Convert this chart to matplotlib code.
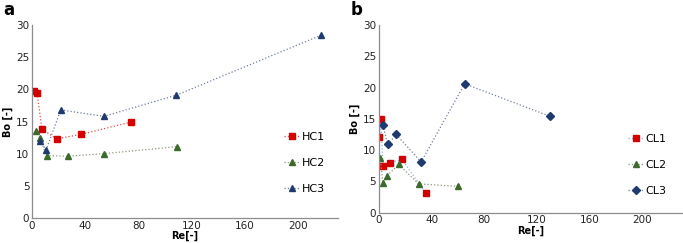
import matplotlib.pyplot as plt

# panel a
hc1_re = [1.7, 3.7, 7.4, 18.5, 36.8, 74]
hc1_bo = [19.7, 19.5, 13.8, 12.3, 13.0, 14.9]
hc2_re = [3.2, 5.7, 11, 27, 54, 109]
hc2_bo = [13.6, 12.4, 9.7, 9.6, 10.0, 11.1]
hc3_re = [5.7, 10.6, 21.5, 54, 108.5, 217]
hc3_bo = [11.9, 10.6, 16.8, 15.8, 19.1, 28.4]

# panel b
cl1_re = [0.3, 1.3, 3, 8.5, 17.5, 35.5]
cl1_bo = [12.1, 14.9, 7.5, 8.0, 8.5, 3.1]
cl2_re = [1, 2.8, 6, 15, 30, 60]
cl2_bo = [8.8, 4.8, 5.9, 7.7, 4.6, 4.2]
cl3_re = [3, 6.5, 13, 32, 65, 130]
cl3_bo = [14.0, 10.9, 12.5, 8.1, 20.6, 15.4]

xticks = [0, 40, 80, 120, 160, 200]
yticks = [0, 5, 10, 15, 20, 25, 30]

red = '#d40000'
green = '#3b6a2a'
navy = '#1f3a6e'

fig = plt.figure(figsize=(6.83, 2.43), dpi=100)
ax1 = fig.add_axes([0.047, 0.103, 0.448, 0.794])
ax2 = fig.add_axes([0.555, 0.125, 0.443, 0.772])


def style(ax, leg_x, leg_y):
    ax.set_xlim(0, 230)
    ax.set_ylim(0, 30)
    ax.set_xticks(xticks)
    ax.set_yticks(yticks)
    for s in ['top', 'right']:
        ax.spines[s].set_visible(False)
    for s in ['left', 'bottom']:
        ax.spines[s].set_color('#8c8c8c')
        ax.spines[s].set_linewidth(0.9)
    ax.tick_params(length=0, labelsize=7.5, colors='#222222', pad=2)
    ax.set_xlabel('Re[-]', fontsize=7, fontweight='bold', labelpad=0)
    ax.set_ylabel('Bo [-]', fontsize=7, fontweight='bold', labelpad=2)
    ax.legend(loc='center left', bbox_to_anchor=(leg_x, leg_y), frameon=False,
              fontsize=8, labelspacing=1.45, handlelength=1.4, handletextpad=0.15,
              borderaxespad=0)


kw = dict(linestyle=':', linewidth=0.9, markersize=5)
ax1.plot(hc1_re, hc1_bo, marker='s', color='#e05050', mfc=red, mec=red, label='HC1', **kw)
ax1.plot(hc2_re, hc2_bo, marker='^', color='#8a9a7a', mfc=green, mec=green, label='HC2', **kw)
ax1.plot(hc3_re, hc3_bo, marker='^', color='#6f7fa0', mfc=navy, mec=navy, label='HC3', **kw)
style(ax1, 0.81, 0.285)

ax2.plot(cl1_re, cl1_bo, marker='s', color='#8fb4dc', mfc=red, mec=red, label='CL1', **kw)
ax2.plot(cl2_re, cl2_bo, marker='^', color='#8a9a7a', mfc=green, mec=green, label='CL2', **kw)
ax2.plot(cl3_re, cl3_bo, marker='D', color='#6f7fa0', mfc=navy, mec=navy, label='CL3',
         linestyle=':', linewidth=0.9, markersize=4)
style(ax2, 0.808, 0.254)

fig.text(0.005, 0.96, 'a', fontsize=12, fontweight='bold', va='center')
fig.text(0.513, 0.96, 'b', fontsize=12, fontweight='bold', va='center')

fig.savefig('out.png', dpi=100)
